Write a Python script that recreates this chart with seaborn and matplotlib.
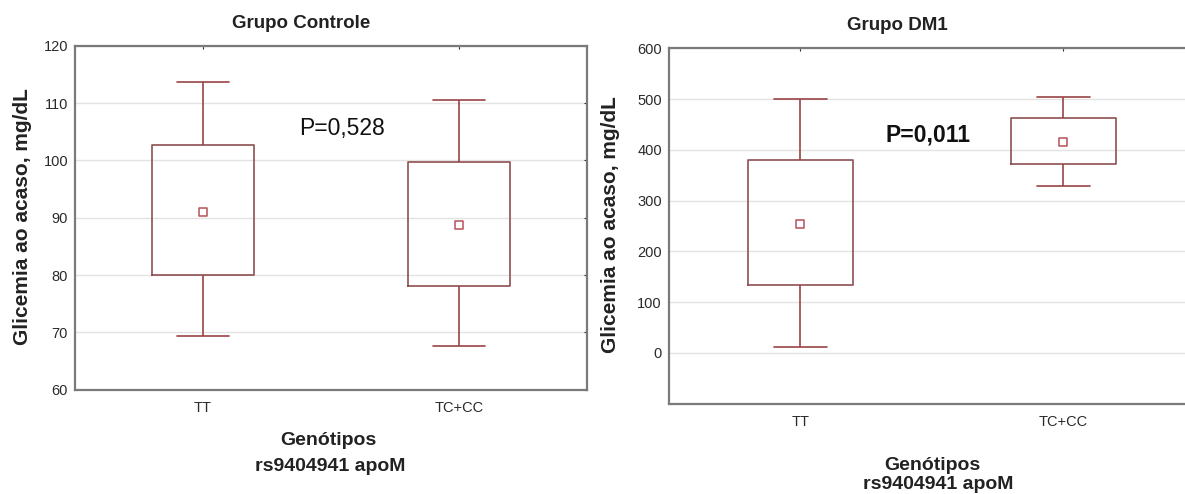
import numpy as np
import pandas as pd
import seaborn as sns
import matplotlib
matplotlib.use("Agg")
import matplotlib.pyplot as plt

# genotype groups
genotypes = ["TT", "TC+CC"]

# Grupo Controle: whisker low, box low, mean, box high, whisker high
ctrl_low = [69.4, 67.7]
ctrl_box_low = [80.0, 78.1]
ctrl_mean = [91.0, 88.8]
ctrl_box_high = [102.7, 99.7]
ctrl_high = [113.6, 110.5]

# Grupo DM1
dm1_low = [11.5, 328.0]
dm1_box_low = [133.0, 372.0]
dm1_mean = [254.0, 416.0]
dm1_box_high = [380.0, 463.0]
dm1_high = [500.0, 505.0]

ctrl_ticks = [60, 70, 80, 90, 100, 110, 120]
dm1_ticks = [-100, 0, 100, 200, 300, 400, 500, 600]
dm1_ticklabels = ["", "0", "100", "200", "300", "400", "500", "600"]


def long_frame(low, blow, mean, bhigh, high):
    # five points per group, so the quartiles land on the box limits
    rows = []
    for i, g in enumerate(genotypes):
        for v in (low[i], blow[i], mean[i], bhigh[i], high[i]):
            rows.append({"Genotipo": g, "valor": v})
    return pd.DataFrame(rows)


ctrl_df = long_frame(ctrl_low, ctrl_box_low, ctrl_mean, ctrl_box_high, ctrl_high)
dm1_df = long_frame(dm1_low, dm1_box_low, dm1_mean, dm1_box_high, dm1_high)
ctrl_means = pd.DataFrame({"Genotipo": genotypes, "valor": ctrl_mean})
dm1_means = pd.DataFrame({"Genotipo": genotypes, "valor": dm1_mean})

sns.set_style("white")
plt.rcParams["font.family"] = ["Liberation Sans", "DejaVu Sans"]

box_col = "#8e4f52"
whisk_col = "#9a4446"
frame_col = "#7a7a7a"

fig = plt.figure(figsize=(11.85, 4.94), dpi=100)
ax1 = fig.add_axes([75 / 1185, 1 - 389.7 / 494, 512 / 1185, 344 / 494])
ax2 = fig.add_axes([668.7 / 1185, 1 - 403.7 / 494, 526 / 1185, 355.4 / 494])


def draw(ax, df, means, ylim, ticks, ticklabels, ptext, pweight, pxy):
    sns.boxplot(data=df, x="Genotipo", y="valor", order=genotypes, ax=ax,
                whis=(0, 100), width=0.4, fill=False, linewidth=1.2,
                boxprops={"color": box_col},
                whiskerprops={"color": whisk_col},
                capprops={"color": whisk_col},
                medianprops={"visible": False},
                showfliers=False)
    sns.stripplot(data=means, x="Genotipo", y="valor", order=genotypes, ax=ax,
                  jitter=False, marker="s", size=5.5, color="white",
                  edgecolor="#b5525a", linewidth=1.1, zorder=5)
    ax.set_xlim(-0.5, 1.5)
    ax.set_ylim(*ylim)
    ax.set_yticks(ticks)
    ax.set_yticklabels(ticklabels)
    ax.yaxis.grid(True, color="#e3e3e3", linewidth=1.0)
    ax.set_axisbelow(True)
    for s in ax.spines.values():
        s.set_color(frame_col)
        s.set_linewidth(1.6)
    ax.tick_params(axis="both", labelsize=10.5, colors="#2a2a2a", length=2.5,
                   width=0.8, direction="in", top=True, right=True)
    ax.tick_params(axis="y", pad=5)
    ax.tick_params(axis="x", pad=8)
    ax.set_xlabel("")
    ax.set_ylabel("")
    ax.text(pxy[0], pxy[1], ptext, transform=ax.transData, fontsize=16.5,
            fontweight=pweight, ha="center", va="center", color="#111111")


draw(ax1, ctrl_df, ctrl_means, (60, 120), ctrl_ticks,
     [str(t) for t in ctrl_ticks], "P=0,528", "normal", (0.543, 105.6))
draw(ax2, dm1_df, dm1_means, (-100, 600), dm1_ticks,
     dm1_ticklabels, "P=0,011", "bold", (0.486, 429))

lab = dict(fontsize=14, fontweight="bold", color="#222222")
fig.text(301 / 1185, 1 - 23 / 494, "Grupo Controle", ha="center", va="center",
         fontsize=13.5, fontweight="bold", color="#222222")
fig.text(897 / 1185, 1 - 25 / 494, "Grupo DM1", ha="center", va="center",
         fontsize=13.5, fontweight="bold", color="#222222")
fig.text(23 / 1185, 1 - 217 / 494, "Glicemia ao acaso, mg/dL", rotation=90,
         ha="center", va="center", fontsize=15, fontweight="bold", color="#222222")
fig.text(610 / 1185, 1 - 225 / 494, "Glicemia ao acaso, mg/dL", rotation=90,
         ha="center", va="center", fontsize=15, fontweight="bold", color="#222222")
fig.text(328 / 1185, 1 - 440 / 494, "Genótipos", ha="center", va="center", **lab)
fig.text(330 / 1185, 1 - 466 / 494, "rs9404941 apoM", ha="center", va="center", **lab)
fig.text(932 / 1185, 1 - 465 / 494, "Genótipos", ha="center", va="center", **lab)
fig.text(938 / 1185, 1 - 484 / 494, "rs9404941 apoM", ha="center", va="center", **lab)

fig.savefig("out.png", dpi=100, facecolor="white")
